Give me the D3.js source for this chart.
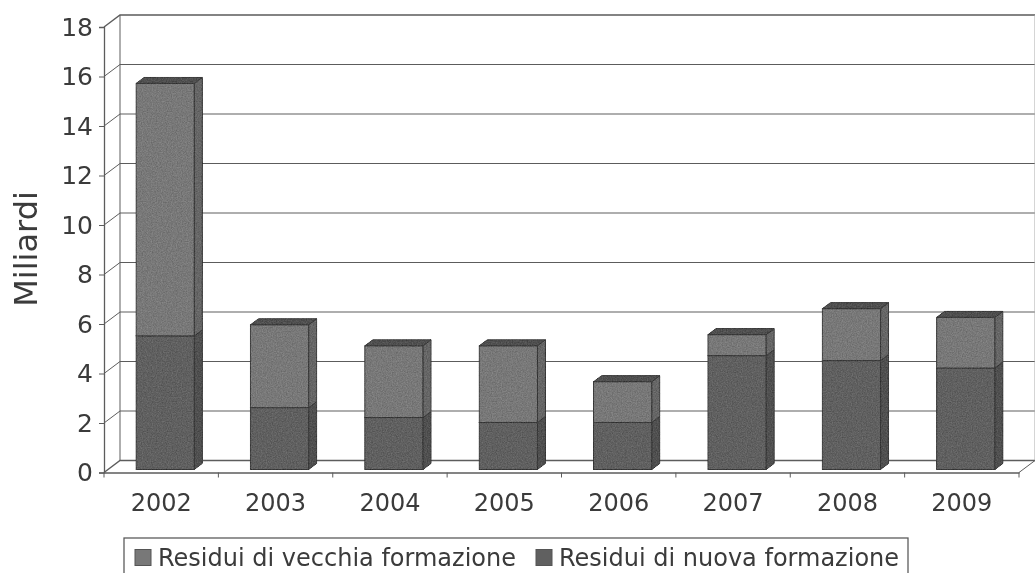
<!DOCTYPE html>
<html>
<head>
<meta charset="utf-8">
<script src="https://cdn.jsdelivr.net/npm/d3@7"></script>
<style>
	html, body { margin: 0; padding: 0; background: #fff; }
	text { font-family: "DejaVu Sans", sans-serif; fill: #3a3a3a; }
</style>
</head>
<body>
<div id="chart"></div>
<script>
const AREA_WIDTH = 1035;
const AREA_HEIGHT = 573;

// valori, in miliardi
const years = ["2002", "2003", "2004", "2005", "2006", "2007", "2008", "2009"];
const nuova = [5.4, 2.5, 2.1, 1.9, 1.9, 4.6, 4.4, 4.1];
const vecchia = [10.2, 3.35, 2.9, 3.1, 1.65, 0.85, 2.1, 2.05];
const y_ticks = [0, 2, 4, 6, 8, 10, 12, 14, 16, 18];
const legend_labels = ["Residui di vecchia formazione", "Residui di nuova formazione"];

const LINE = "#5c5c5c";
const VECCHIA_FRONT = "#787878";
const VECCHIA_SIDE = "#666";
const NUOVA_FRONT = "#606060";
const NUOVA_SIDE = "#505050";
const TOP_COLOR = "#505050";

// profondita' del pavimento 3d
const DEPTH_X = 16;
const DEPTH_Y = -12;
// profondita' della barra
const BAR_DX = 8;
const BAR_DY = -6;

const svg = d3.select("#chart")
	.append("svg")
		.attr("width", AREA_WIDTH)
		.attr("height", AREA_HEIGHT)
		.style("display", "block");

// effetto scansione: leggera sfocatura e grana sulle barre
const defs = svg.append("defs");
defs.append("filter").attr("id", "scan")
	.append("feGaussianBlur").attr("stdDeviation", 0.6);
const grain = defs.append("filter").attr("id", "grain")
	.attr("color-interpolation-filters", "sRGB");
grain.append("feTurbulence")
	.attr("type", "fractalNoise").attr("baseFrequency", 0.8).attr("numOctaves", 2).attr("seed", 4)
	.attr("result", "noise");
grain.append("feColorMatrix")
	.attr("in", "noise").attr("type", "matrix")
	.attr("values", "1 0 0 0 0 1 0 0 0 0 1 0 0 0 0 0 0 0 0 1")
	.attr("result", "grey");
grain.append("feComposite")
	.attr("in", "SourceGraphic").attr("in2", "grey")
	.attr("operator", "arithmetic")
	.attr("k1", 0).attr("k2", 1).attr("k3", 0.2).attr("k4", -0.1)
	.attr("result", "mixed");
grain.append("feComposite")
	.attr("in", "mixed").attr("in2", "SourceAlpha").attr("operator", "in");

const root = svg.append("g").attr("filter", "url(#scan)");
const bars = root.append("g");

const x = d3.scaleBand().domain(years).range([104, 1019]).paddingInner(0.49).paddingOuter(0.245);
const y = d3.scaleLinear().domain([0, 18]).range([472.5, 27]);

// pareti e griglia
const grid = root.insert("g", "g");
y_ticks.forEach(t => {
	const yy = y(t);
	grid.append("path")
		.attr("d", `M104,${yy} L${104 + DEPTH_X},${yy + DEPTH_Y} L${1019 + DEPTH_X},${yy + DEPTH_Y}`)
		.attr("fill", "none")
		.attr("stroke", LINE)
		.attr("stroke-width", t == 18 || t == 0 ? 1.4 : 1);
});
grid.append("line")
	.attr("x1", 104 + DEPTH_X).attr("x2", 104 + DEPTH_X)
	.attr("y1", y(18) + DEPTH_Y).attr("y2", y(0) + DEPTH_Y)
	.attr("stroke", LINE);
grid.append("line")
	.attr("x1", 1019 + DEPTH_X).attr("x2", 1019 + DEPTH_X)
	.attr("y1", y(18) + DEPTH_Y).attr("y2", y(0) + DEPTH_Y)
	.attr("stroke", "#aaa");
grid.append("line")
	.attr("x1", 1019).attr("x2", 1019 + DEPTH_X)
	.attr("y1", y(0)).attr("y2", y(0) + DEPTH_Y)
	.attr("stroke", LINE);

function draw_segment(i, from, to, front, side, with_top) {
	const px = x(years[i]) + BAR_DX / 2;
	const w = x.bandwidth();
	const y0 = y(from) + BAR_DY / 2;
	const y1 = y(to) + BAR_DY / 2;
	bars.append("rect")
		.attr("x", px).attr("y", y1)
		.attr("width", w).attr("height", y0 - y1)
		.attr("fill", front).attr("stroke", "#383838").attr("stroke-width", 1);
	bars.append("path")
		.attr("d", `M${px + w},${y1} l${BAR_DX},${BAR_DY} V${y0 + BAR_DY} l${-BAR_DX},${-BAR_DY} Z`)
		.attr("fill", side).attr("stroke", "#383838").attr("stroke-width", 1);
	if (with_top) {
		bars.append("path")
			.attr("d", `M${px},${y1} l${BAR_DX},${BAR_DY} h${w} l${-BAR_DX},${-BAR_DY} Z`)
			.attr("fill", TOP_COLOR).attr("stroke", "#383838").attr("stroke-width", 1);
	}
}

years.forEach((year, i) => {
	draw_segment(i, 0, nuova[i], NUOVA_FRONT, NUOVA_SIDE, false);
	draw_segment(i, nuova[i], nuova[i] + vecchia[i], VECCHIA_FRONT, VECCHIA_SIDE, true);
});
bars.attr("filter", "url(#grain)");

// assi
const y_axis = root.append("g")
	.attr("transform", "translate(104,0)")
	.call(d3.axisLeft(y).tickValues(y_ticks).tickSize(5).tickPadding(6));
y_axis.selectAll("text").style("font-size", "25px");

const x_axis = root.append("g")
	.attr("transform", `translate(0,${y(0)})`)
	.call(d3.axisBottom(x).tickSize(0).tickPadding(21));
x_axis.selectAll("text").style("font-size", "24px");

// tacche tra le categorie
d3.range(years.length + 1).forEach(i => {
	const tx = 104 + i * x.step();
	root.append("line")
		.attr("x1", tx).attr("x2", tx)
		.attr("y1", y(0)).attr("y2", y(0) + 5)
		.attr("stroke", LINE);
});
root.selectAll(".domain").attr("stroke", LINE).attr("stroke-width", 1.3);
root.selectAll(".tick line").attr("stroke", LINE);

root.append("text")
	.attr("transform", "translate(37,249) rotate(-90)")
	.attr("text-anchor", "middle")
	.style("font-size", "32px")
	.text("Miliardi");

// legenda
root.append("rect")
	.attr("x", 124).attr("y", 538)
	.attr("width", 784).attr("height", 40)
	.attr("fill", "none").attr("stroke", LINE).attr("stroke-width", 1.3);
const legend_x = [135, 536];
const legend_colors = [VECCHIA_FRONT, NUOVA_FRONT];
legend_labels.forEach((label, i) => {
	root.append("rect")
		.attr("x", legend_x[i]).attr("y", 549.5)
		.attr("width", 16).attr("height", 16)
		.attr("fill", legend_colors[i]).attr("stroke", "#555");
	root.append("text")
		.attr("x", legend_x[i] + 23).attr("y", 566)
		.style("font-size", "24px")
		.text(label);
});
</script>
</body>
</html>
